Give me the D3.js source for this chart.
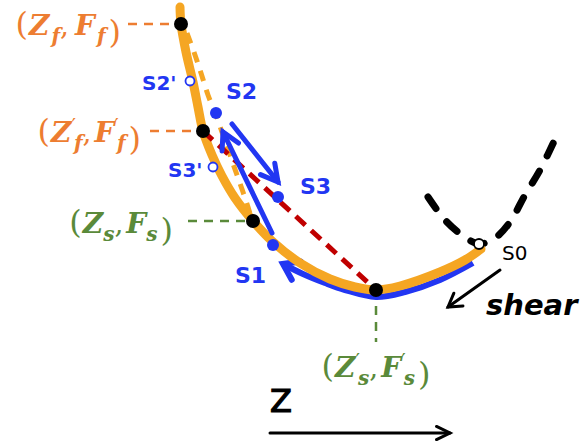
<!DOCTYPE html>
<html>
<head>
<meta charset="utf-8">
<script src="https://cdn.jsdelivr.net/npm/d3@7"></script>
<style>
  body { margin: 0; background: #fff; }
  svg { display: block; }
</style>
</head>
<body>
<div id="chart"></div>
<script>
'use strict';

const W = 585, H = 446;

// all curves / points in (Z, F) units
const loadCurve = [
  [18.0, 43.9], [18.1, 42.2], [18.6, 39.4], [19.3, 36.4], [19.8, 33.9],
  [20.3, 31.5], [21.2, 29.1], [22.2, 27.0], [23.5, 24.8], [25.3, 22.5],
  [27.2, 20.5], [30.0, 18.3], [33.0, 16.7], [35.5, 15.9], [37.6, 15.6],
  [40.0, 16.0], [44.0, 17.4], [46.5, 18.6], [48.1, 19.7]
];

const dashedCurve = [
  [18.7, 41.3], [19.5, 39.1], [20.1, 37.3], [20.8, 35.1], [21.6, 33.1],
  [22.3, 31.1], [23.0, 29.1], [23.7, 27.1], [24.3, 25.4], [24.8, 23.9],
  [25.2, 22.6]
];

// blue path, from the S0 end back to the arrow tip
const shearPath = [
  [47.3, 18.3], [44.0, 16.6], [40.5, 15.4], [37.6, 14.9], [34.5, 15.6],
  [32.5, 16.3], [30.3, 17.2], [28.3, 18.2]
];

const tipCurve = [
  [42.8, 24.9], [44.5, 22.6], [46.2, 21.1], [47.9, 20.2], [49.5, 20.8],
  [51.0, 22.4], [52.5, 25.1], [54.0, 27.6], [55.7, 31.1]
];

const keyNames = ["f", "f'", "s", "s'"];
const keyZ = [18.1, 20.3, 25.3, 37.6];
const keyF = [42.2, 31.5, 22.5, 15.6];

const stateNames = ["S1", "S2", "S3"];
const stateZ = [27.3, 21.6, 27.8];
const stateF = [20.1, 33.3, 24.9];

const ghostNames = ["S2'", "S3'"];
const ghostZ = [19.0, 21.3];
const ghostF = [36.5, 27.9];

const s0 = [47.9, 20.2];

// [from, to]
const jumpArrows = [
  [[27.2, 21.3], [22.3, 31.4]],
  [[23.2, 32.2], [27.8, 26.4]]
];
const shearArrow = [[50.0, 17.6], [44.8, 13.9]];
const zArrow = [[27.0, 1.3], [45.0, 1.3]];

const x = d3.scaleLinear().domain([0, 58.5]).range([0, W]);
const y = d3.scaleLinear().domain([0, 44.6]).range([H, 0]);

const ORANGE = "#f5a623";
const LABEL_ORANGE = "#ed7d31";
const GREEN = "#5a8a3a";
const BLUE = "#2236f2";
const RED = "#c00000";

const svg = d3.select("#chart").append("svg")
  .attr("width", W)
  .attr("height", H);

const line = d3.line()
  .x(d => x(d[0]))
  .y(d => y(d[1]))
  .curve(d3.curveCatmullRom.alpha(0.5));

function arrowHead(g, from, to, len, spread, color, width) {
  const x1 = x(from[0]), y1 = y(from[1]), x2 = x(to[0]), y2 = y(to[1]);
  const a = Math.atan2(y2 - y1, x2 - x1);
  const p = d3.path();
  p.moveTo(x2 - len * Math.cos(a - spread), y2 - len * Math.sin(a - spread));
  p.lineTo(x2, y2);
  p.lineTo(x2 - len * Math.cos(a + spread), y2 - len * Math.sin(a + spread));
  g.append("path")
    .attr("d", p.toString())
    .attr("fill", "none")
    .attr("stroke", color)
    .attr("stroke-width", width)
    .attr("stroke-linecap", "round")
    .attr("stroke-linejoin", "miter");
}

function arrow(g, from, to, len, spread, color, width) {
  g.append("line")
    .attr("x1", x(from[0])).attr("y1", y(from[1]))
    .attr("x2", x(to[0])).attr("y2", y(to[1]))
    .attr("stroke", color)
    .attr("stroke-width", width)
    .attr("stroke-linecap", "round");
  arrowHead(g, from, to, len, spread, color, width);
}

// tip shape (black dashed)
svg.append("path")
  .attr("d", line(tipCurve))
  .attr("fill", "none")
  .attr("stroke", "#000")
  .attr("stroke-width", 7)
  .attr("stroke-linecap", "round")
  .attr("stroke-dasharray", "14,17");

// blue shear path under the orange curve
svg.append("path")
  .attr("d", line(shearPath))
  .attr("fill", "none")
  .attr("stroke", BLUE)
  .attr("stroke-width", 6);
arrowHead(svg, shearPath[shearPath.length - 2], shearPath[shearPath.length - 1],
  18, 0.6, BLUE, 6);

// main curve
svg.append("path")
  .attr("d", line(loadCurve))
  .attr("fill", "none")
  .attr("stroke", ORANGE)
  .attr("stroke-width", 9)
  .attr("stroke-linecap", "round");

svg.append("path")
  .attr("d", line(dashedCurve))
  .attr("fill", "none")
  .attr("stroke", ORANGE)
  .attr("stroke-width", 5)
  .attr("stroke-dasharray", "11,9");

// red dashed chord
svg.append("line")
  .attr("x1", x(keyZ[1])).attr("y1", y(keyF[1]))
  .attr("x2", x(keyZ[3])).attr("y2", y(keyF[3]))
  .attr("stroke", RED)
  .attr("stroke-width", 5)
  .attr("stroke-dasharray", "13,8");

// leader lines for key points
const leaders = svg.append("g")
  .attr("stroke-width", 2.5)
  .attr("stroke-dasharray", "9,7");

[0, 1, 2].forEach(i => {
  const px = x(keyZ[i]), py = y(keyF[i]);
  const start = i === 2 ? px - 65 : px - 53;
  leaders.append("line")
    .attr("x1", start).attr("x2", px - 6)
    .attr("y1", py).attr("y2", py)
    .attr("stroke", i < 2 ? LABEL_ORANGE : GREEN);
});
leaders.append("line")
  .attr("x1", x(keyZ[3])).attr("x2", x(keyZ[3]))
  .attr("y1", y(keyF[3]) + 16).attr("y2", y(keyF[3]) + 52)
  .attr("stroke", GREEN);

// key points
svg.append("g").selectAll("circle")
  .data(keyZ)
  .join("circle")
  .attr("cx", d => x(d))
  .attr("cy", (d, i) => y(keyF[i]))
  .attr("r", 7)
  .attr("fill", "#000");

// blue jumps
jumpArrows.forEach(a => arrow(svg, a[0], a[1], 19, 0.5, BLUE, 5));

// states
svg.append("g").selectAll("circle")
  .data(stateZ)
  .join("circle")
  .attr("cx", d => x(d))
  .attr("cy", (d, i) => y(stateF[i]))
  .attr("r", 6)
  .attr("fill", BLUE);

svg.append("g").selectAll("circle")
  .data(ghostZ)
  .join("circle")
  .attr("cx", d => x(d))
  .attr("cy", (d, i) => y(ghostF[i]))
  .attr("r", 4.5)
  .attr("fill", "#fff")
  .attr("stroke", BLUE)
  .attr("stroke-width", 1.8);

svg.append("circle")
  .attr("cx", x(s0[0]))
  .attr("cy", y(s0[1]))
  .attr("r", 5)
  .attr("fill", "#fff")
  .attr("stroke", "#000")
  .attr("stroke-width", 1.8);

// labels
const handFont = "'DejaVu Sans', Verdana, sans-serif";

function stateLabel(text, px, py, color, weight, size) {
  svg.append("text")
    .attr("x", px).attr("y", py)
    .attr("font-family", handFont)
    .attr("font-weight", weight)
    .attr("font-size", size)
    .attr("fill", color)
    .text(text);
}

const stateOffsets = [[-38, 38], [10, -14], [22, -3]];
stateNames.forEach((n, i) => {
  stateLabel(n, x(stateZ[i]) + stateOffsets[i][0], y(stateF[i]) + stateOffsets[i][1], BLUE, "bold", 22);
});
const ghostOffsets = [[-48, 9], [-45, 10]];
ghostNames.forEach((n, i) => {
  stateLabel(n, x(ghostZ[i]) + ghostOffsets[i][0], y(ghostF[i]) + ghostOffsets[i][1], BLUE, "bold", 20);
});
stateLabel("S0", x(s0[0]) + 23, y(s0[1]) + 16, "#000", "normal", 20);

svg.append("text")
  .attr("x", 486).attr("y", 315)
  .attr("font-family", handFont)
  .attr("font-weight", "bold")
  .attr("font-style", "italic")
  .attr("font-size", 29)
  .attr("fill", "#000")
  .text("shear");

svg.append("text")
  .attr("x", x(zArrow[0][0])).attr("y", y(zArrow[0][1]) - 21)
  .attr("font-family", handFont)
  .attr("font-size", 32)
  .attr("fill", "#000")
  .attr("stroke", "#000")
  .attr("stroke-width", 1.2)
  .text("Z");

arrow(svg, shearArrow[0], shearArrow[1], 15, 0.55, "#000", 3);
arrow(svg, zArrow[0], zArrow[1], 15, 0.45, "#000", 3);

// (Z, F) labels
function mathLabel(idx, px, py, anchor, color) {
  const name = keyNames[idx];
  const sub = name[0];
  const prime = name.length > 1;
  const t = svg.append("text")
    .attr("x", px).attr("y", py)
    .attr("text-anchor", anchor)
    .attr("font-family", "'DejaVu Serif', 'Liberation Serif', serif")
    .attr("font-size", 28)
    .attr("fill", color);
  t.append("tspan").attr("font-size", 32).text("(");
  ["Z", "F"].forEach((sym, k) => {
    t.append("tspan")
      .attr("font-weight", "bold")
      .attr("font-style", "italic")
      .attr("dx", k === 0 ? 1 : (sub === "f" && !prime ? 6 : 3))
      .text(sym);
    if (prime) {
      t.append("tspan").attr("font-size", 20).attr("dy", -9).text("′");
      t.append("tspan").attr("font-size", 20).attr("font-weight", "bold")
        .attr("font-style", "italic").attr("dx", -2).attr("dy", 17).text(sub);
    } else {
      t.append("tspan").attr("font-size", 20).attr("font-weight", "bold")
        .attr("font-style", "italic").attr("dy", 8)
        .attr("dx", sub === "f" ? 2 : 0).text(sub);
    }
    t.append("tspan").attr("dy", -8).text(k === 0 ? "," : "");
  });
  t.append("tspan").attr("font-size", 32).attr("dx", 3).text(")");
}

mathLabel(0, x(keyZ[0]) - 60, y(keyF[0]) + 11, "end", LABEL_ORANGE);
mathLabel(1, x(keyZ[1]) - 62, y(keyF[1]) + 11, "end", LABEL_ORANGE);
mathLabel(2, x(keyZ[2]) - 80, y(keyF[2]) + 12, "end", GREEN);
mathLabel(3, x(keyZ[3]), y(keyF[3]) + 87, "middle", GREEN);
</script>
</body>
</html>
